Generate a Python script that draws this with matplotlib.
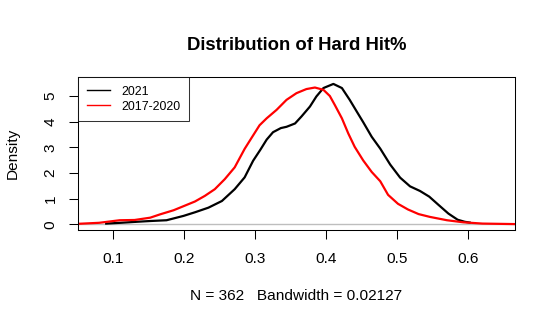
import numpy as np
import matplotlib
matplotlib.use("Agg")
import matplotlib.pyplot as plt

plt.rcParams["font.family"] = ["Liberation Sans", "DejaVu Sans"]

# density of Hard Hit%, 2021 season
x_2021 = [0.09, 0.11, 0.133, 0.152, 0.175, 0.199, 0.215, 0.234, 0.253, 0.271,
          0.285, 0.297, 0.307, 0.316, 0.325, 0.336, 0.344, 0.356, 0.365, 0.377,
          0.386, 0.396, 0.41, 0.422, 0.433, 0.443, 0.452, 0.464, 0.476, 0.49,
          0.504, 0.518, 0.532, 0.545, 0.558, 0.572, 0.585, 0.595, 0.602]
y_2021 = [0.03, 0.06, 0.10, 0.13, 0.16, 0.33, 0.47, 0.65, 0.91, 1.37,
          1.83, 2.48, 2.90, 3.30, 3.59, 3.75, 3.80, 3.93, 4.20, 4.59,
          4.98, 5.31, 5.47, 5.31, 4.85, 4.39, 3.98, 3.41, 2.95, 2.33,
          1.82, 1.48, 1.30, 1.08, 0.76, 0.42, 0.18, 0.10, 0.07]

# density of Hard Hit%, 2017-2020
x_prev = [0.05, 0.08, 0.109, 0.13, 0.152, 0.166, 0.185, 0.20, 0.215, 0.229,
          0.243, 0.257, 0.271, 0.285, 0.295, 0.306, 0.316, 0.330, 0.344, 0.358,
          0.372, 0.384, 0.396, 0.405, 0.412, 0.422, 0.431, 0.440, 0.452, 0.464,
          0.476, 0.487, 0.501, 0.515, 0.530, 0.546, 0.57, 0.593, 0.62, 0.666]
y_prev = [0.02, 0.06, 0.16, 0.17, 0.26, 0.39, 0.55, 0.72, 0.89, 1.11,
          1.37, 1.76, 2.22, 2.94, 3.38, 3.86, 4.13, 4.46, 4.85, 5.11,
          5.27, 5.33, 5.24, 5.00, 4.65, 4.13, 3.54, 3.02, 2.49, 2.04,
          1.68, 1.15, 0.80, 0.58, 0.40, 0.29, 0.16, 0.08, 0.03, 0.01]

x_ticks = [0.1, 0.2, 0.3, 0.4, 0.5, 0.6]
y_ticks = [0, 1, 2, 3, 4, 5]

fig = plt.figure(figsize=(5.55, 3.27), dpi=100)
ax = fig.add_axes([78 / 555, 1 - 230 / 327, (515 - 78) / 555, (230 - 77) / 327])

ax.axhline(0, color="#BEBEBE", lw=1.0, zorder=1)
ax.plot(x_2021, y_2021, color="black", lw=1.6, label="2021")
ax.plot(x_prev, y_prev, color="red", lw=1.6, label="2017-2020")

ax.set_xlim(0.0503, 0.6658)
ax.set_ylim(-0.22, 5.74)
ax.set_xticks(x_ticks)
ax.set_xticklabels([f"{t:.1f}" for t in x_ticks])
ax.set_yticks(y_ticks)
ax.set_yticklabels([str(t) for t in y_ticks], rotation=90, va="center")
ax.tick_params(axis="both", length=6.6, width=0.75, labelsize=11.1, pad=9.5)
ax.tick_params(axis="y", pad=8)
for s in ax.spines.values():
    s.set_linewidth(0.75)

ax.set_title("Distribution of Hard Hit%", fontsize=13.3, fontweight="bold", pad=19.5)
ax.set_xlabel("N = 362   Bandwidth = 0.02127", fontsize=11.1, labelpad=16)
ax.set_ylabel("Density", fontsize=11.1, labelpad=17)

leg = ax.legend(loc="upper left", fontsize=8.9, frameon=True, fancybox=False,
                edgecolor="black", borderaxespad=0, handlelength=1.9,
                handletextpad=0.9, borderpad=0.7, labelspacing=0.25)
leg.get_frame().set_linewidth(0.75)
for line in leg.get_lines():
    line.set_linewidth(1.0)

fig.savefig("out.png", dpi=100)
